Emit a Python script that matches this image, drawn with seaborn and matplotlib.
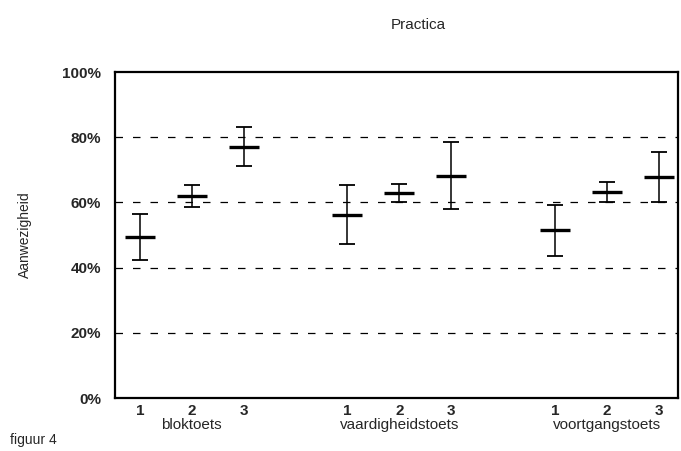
import numpy as np
import pandas as pd
import matplotlib
matplotlib.use("Agg")
import matplotlib.pyplot as plt
import matplotlib.transforms as mtransforms
import seaborn as sns

groups = ["bloktoets", "vaardigheidstoets", "voortgangstoets"]
levels = ["1", "2", "3"]
means = [49.4, 62.0, 77.1, 56.1, 62.8, 68.2, 51.5, 63.3, 67.8]
lows = [42.4, 58.7, 71.2, 47.2, 60.0, 57.9, 43.7, 60.2, 60.2]
highs = [56.6, 65.3, 83.1, 65.4, 65.6, 78.7, 59.1, 66.3, 75.5]
yticks = [0, 20, 40, 60, 80, 100]
ytick_labels = ["0%", "20%", "40%", "60%", "80%", "100%"]

sns.set_theme(style="white")
plt.rcParams["font.family"] = ["Liberation Sans", "DejaVu Sans"]

pos = []
for gi in range(len(groups)):
    for li in range(len(levels)):
        pos.append(gi * 4 + li)

df = pd.DataFrame({
    "pos": pos,
    "mean": means,
    "low": lows,
    "high": highs,
    "group": [g for g in groups for _ in levels],
    "level": levels * len(groups),
})

fig = plt.figure(figsize=(6.81, 4.51), dpi=100)
ax = fig.add_axes([0.169, 0.1175, 0.827, 0.7225])

ax.errorbar(df["pos"], df["mean"],
            yerr=[df["mean"] - df["low"], df["high"] - df["mean"]],
            fmt="none", ecolor="black", elinewidth=1.1, capsize=6, capthick=1.3)
sns.scatterplot(data=df, x="pos", y="mean", marker="_", s=480, color="black",
                linewidth=2.4, ax=ax, legend=False, zorder=5)

for y in [20, 40, 60, 80]:
    ax.axhline(y, color="black", linestyle=(0, (6, 8)), linewidth=0.9, zorder=0)

ax.set_ylim(0, 100)
ax.set_xlim(-0.48, 10.38)
ax.set_yticks(yticks)
ax.set_yticklabels(ytick_labels, fontsize=11, fontweight="bold")
ax.set_xticks(df["pos"])
ax.set_xticklabels(df["level"], fontsize=11, fontweight="bold")
ax.tick_params(axis="x", length=0, pad=4)
ax.tick_params(axis="y", length=0, pad=10)
ax.set_xlabel("")
ax.set_ylabel("Aanwezigheid", fontsize=10, labelpad=22)

for s in ax.spines.values():
    s.set_color("black")
    s.set_linewidth(1.6)

trans = mtransforms.blended_transform_factory(ax.transData, ax.transAxes)
for gi, g in enumerate(groups):
    ax.text(gi * 4 + 1, -0.062, g, transform=trans, ha="center", va="top",
            fontsize=11)

fig.text(0.614, 0.945, "Practica", ha="center", va="center", fontsize=11)
fig.text(0.015, 0.025, "figuur 4", ha="left", va="center", fontsize=10)

fig.savefig("out.png", dpi=100)
